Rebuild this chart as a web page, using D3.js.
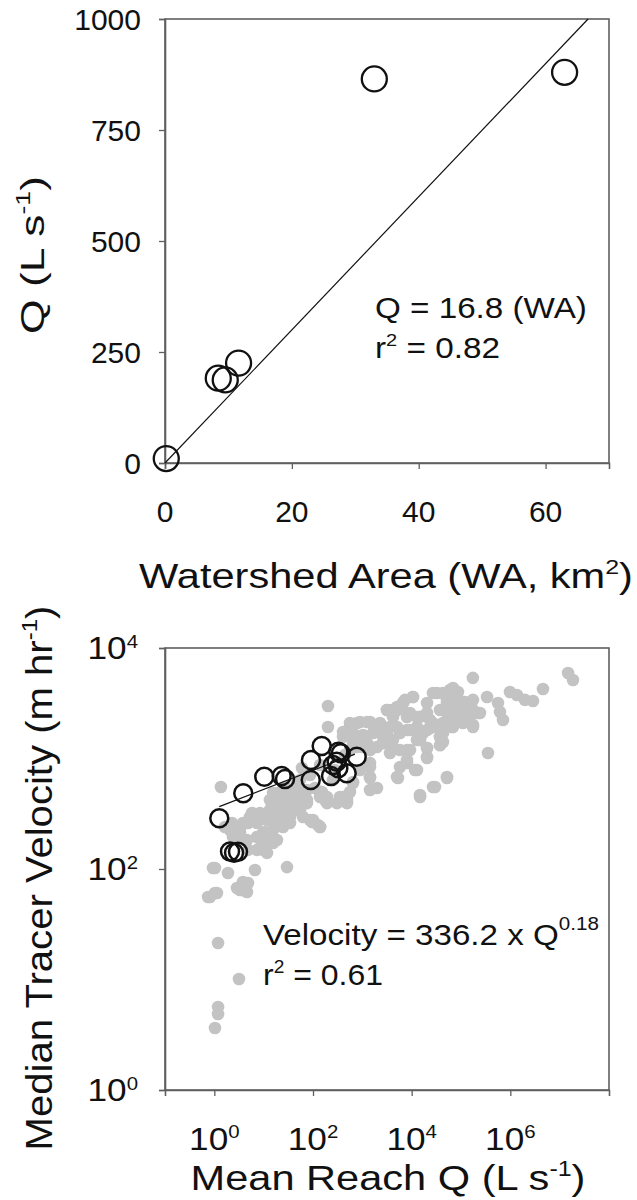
<!DOCTYPE html>
<html><head><meta charset="utf-8">
<script src="https://cdn.jsdelivr.net/npm/d3@7"></script>
<style>body{margin:0;background:#fff}</style>
</head><body>
<svg id="c" width="637" height="1200"></svg>
<script>
// ---------- Data: top panel ----------
const watershedArea = [0.2, 8.4, 9.5, 11.6, 33.0, 63.0];   // km2
const watershedQ    = [10, 191, 187, 225, 865, 880];      // L s-1
const areaFitWA = [0, 66.7];
const areaFitQ  = [0, 1000];
const areaXTicks = [0, 20, 40, 60];
const areaYTicks = [0, 250, 500, 750, 1000];

// ---------- Data: bottom panel ----------
// study reaches (open circles)
const reachQ = [1.26, 3.86, 10.3, 23.2, 27.1, 91, 150, 90, 365, 769, 302, 326, 232, 482, 2.08, 2.51, 3.02, 254, 326];
const reachV = [288, 484, 684, 695, 653, 970, 1300, 639, 1115, 1038, 935, 815, 695, 735, 144, 140, 143, 873, 1153];
// literature data (grey dots)
const litQ = [174000, 1.48e7, 1.86e7, 4.59e6, 9.84e5, 1.36e6, 1.98e6, 2.88e6, 3.37e5, 5.62e5,
  6.17e5, 7.1e5, 2.21e5, 3.52e5, 3.26e4, 5.98e4, 8.69e4, 5.2e4, 9.55e4, 1.1e5,
  1.52e5, 1.75e5, 8.3e4, 6.56e4, 4.32e4, 3.75e4, 2.35e4, 2.05e4, 1.06e4, 7330,
  3160, 4190, 5800, 9250, 1.48e4, 1.28e4, 8040, 5050, 3160, 2620,
  4190, 1.7e4, 2.35e4, 1.48e4, 2.7e4, 5.2e4, 7.55e4, 1.2e5, 8040, 8040,
  1.28e4, 2.05e4, 2.05e4, 5280, 5.2e4, 2.97e4, 1.48e4, 3.75e4, 6.89e4, 1.75e5,
  1.52e5, 562, 780, 1245, 1640, 2620, 2280, 3640, 5050, 6670,
  406, 647, 1030, 1430, 2620, 1430, 1430, 1430, 647, 489,
  897, 201, 201, 817, 152, 175, 95.5, 126, 49.7, 68.9,
  43.2, 27.1, 19.5, 14.8, 31.1, 23.5, 17.0, 10.6, 7.67, 5.81,
  4.81, 24.7, 17.0, 10.6, 14.8, 9.25, 10.6, 3.31, 2.62, 4.19,
  2.28, 4.81, 1.64, 1.36, 59.8, 110, 75.5, 100, 139, 11.7,
  7.33, 34.2, 47.4, 62.7, 192, 306, 39.4, 54.5, 8.43, 13.4,
  279, 446, 0.94, 1.89, 6.67, 29.7, 3.64, 4.81, 2.88, 0.745,
  1.03, 4.59, 11.7, 15.5, 1.19, 3.16, 1.19, 1.19, 1.03, 86.9,
  139, 254, 54.5,
  562, 897, 1430, 2280, 406, 647, 1033, 1644, 2624, 3640,
  3162, 5047, 6668, 10640, 8035, 12820, 20460, 27040, 43150, 68870,
  82990, 52000, 37500, 59840, 95500, 132400, 175000, 242700, 175000, 109600,
  68870, 43150, 27040, 20460, 12820, 9250, 5794, 4188, 2624, 1982,
  1245, 780, 562, 9250, 8035, 20460, 20460, 43150, 37500, 12820,
  5794, 11690, 1430, 1430, 1982, 647, 562, 352, 139, 75.5,
  5047, 14760, 27040, 52000, 5794, 3640,
  15.5, 24.7, 39.4, 54.5, 34.2, 21.4, 13.4, 8.43, 5.28, 3.81,
  2.88, 2.08, 7.33, 11.7, 18.6, 29.7, 47.4, 75.5, 62.7, 34.2,
  24.7, 15.5, 9.68, 7.33, 4.59, 3.31, 2.39, 11.7, 9.68, 18.6,
  29.7, 86.9, 139, 139, 192, 406, 489, 13.4,
  1.03, 3.81, 3.31, 0.817, 1.13];
const litV = [5370, 5940, 5140, 4260, 4000, 3760, 3390, 3310, 3600, 3180,
  2640, 2230, 2580, 1120, 3920, 4170, 4000, 3390, 3180, 2640,
  2380, 2010, 2230, 1930, 1700, 1320, 2230, 3180, 3600, 3390,
  2750, 2380, 2920, 2580, 2380, 1930, 1810, 1930, 1700, 1380,
  1245, 1700, 1890, 1470, 2090, 2580, 2870, 3250, 1190, 910,
  787, 1245, 1010, 667, 667, 552, 449, 1570, 2380, 3390,
  2920, 1930, 2090, 2140, 2010, 1930, 1700, 2750, 2920, 3180,
  1570, 1380, 1270, 1190, 1380, 910, 681, 519, 600, 421,
  787, 2990, 1930, 1570, 497, 421, 266, 250, 488, 395,
  364, 552, 488, 421, 364, 321, 296, 308, 278, 321,
  261, 261, 240, 216, 195, 172, 149, 225, 195, 183,
  261, 149, 240, 552, 820, 541, 519, 278, 240, 172,
  149, 296, 600, 421, 449, 395, 449, 342, 296, 278,
  787, 1075, 102, 92, 98, 104, 64.6, 74.7, 67.3, 55.8,
  60.7, 61.9, 140, 172, 21.4, 10.1, 5.64, 4.88, 3.64, 710,
  873, 639, 639,
  2095, 2140, 2140, 2095, 1738, 1702, 1633, 1702, 1738, 1928,
  2748, 2748, 3177, 3606, 2377, 2377, 2582, 3917, 3917, 4345,
  3606, 3177, 2748, 2582, 2748, 2377, 2748, 2582, 1928, 2095,
  1928, 2095, 1928, 1811, 1702, 1811, 1702, 1471, 1380, 1271,
  1380, 1271, 1194, 1194, 970, 1245, 1032, 1410, 1566, 1471,
  838, 787, 838, 666, 541, 613, 498, 449, 488, 421,
  681, 468, 552, 681, 1194, 1122,
  488, 449, 488, 519, 395, 364, 342, 321, 296, 261,
  240, 225, 261, 278, 296, 321, 342, 395, 296, 261,
  240, 225, 212, 195, 183, 212, 195, 172, 149, 183,
  261, 278, 240, 449, 395, 449, 395, 421,
  102, 76.3, 64.6, 55.8, 60.7];
const velFitQ = [1.26, 708];
const velFitV = [367, 1096];
const velXTicks = [1, 1e2, 1e4, 1e6];
const velXTickExp = ["0", "2", "4", "6"];
const velYTicks = [1, 1e2, 1e4];
const velYTickExp = ["0", "2", "4"];

// ---------- Drawing ----------
const FONT = "'Liberation Sans', Arial, sans-serif";
const INK = "#111";
const AXIS = "#5f5f5f";
const svg = d3.select("#c");

function richText(parent, parts, o) {
  const g = parent.append("g")
    .attr("transform", `translate(${o.x},${o.y})` + (o.rotate ? ` rotate(${o.rotate})` : ""));
  const t = g.append("text").attr("font-family", FONT).attr("font-size", o.fs)
    .attr("text-anchor", o.anchor || "start").attr("fill", INK);
  let raised = 0;
  parts.forEach(p => {
    const ts = t.append("tspan").text(p.t);
    if (p.sup) {
      const r = o.fs * (o.rise || 0.4);
      ts.attr("font-size", o.fs * (o.supScale || 0.6)).attr("dy", -r);
      raised = r;
    } else if (raised) { ts.attr("dy", raised); raised = 0; }
  });
  if (o.width) {
    const w = t.node().getBBox().width;
    t.attr("transform", `scale(${o.width / w},1)`);
  } else if (o.sx) {
    t.attr("transform", `scale(${o.sx},1)`);
  }
  return t;
}

// ===== Top panel =====
const L = 165, R = 609;
const x1 = d3.scaleLinear().domain([0, 70]).range([L, R]);
const y1 = d3.scaleLinear().domain([0, 1000]).range([463, 19]);
const topG = svg.append("g");

topG.append("rect").attr("x", L).attr("y", y1(1000)).attr("width", R - L).attr("height", y1(0) - y1(1000))
  .attr("fill", "none").attr("stroke", AXIS).attr("stroke-width", 1.6);

const ax1 = topG.append("g").attr("transform", `translate(0,${y1(0)})`)
  .call(d3.axisBottom(x1).tickValues(areaXTicks).tickSize(6).tickFormat(""));
const ay1 = topG.append("g").attr("transform", `translate(${L},0)`)
  .call(d3.axisLeft(y1).tickValues(areaYTicks).tickSize(6).tickFormat(""));
[ax1, ay1].forEach(a => { a.select(".domain").attr("stroke", AXIS).attr("stroke-width", 1.6);
  a.selectAll(".tick line").attr("stroke", AXIS).attr("stroke-width", 1.3); });

areaXTicks.forEach(v => richText(topG, [{t: String(v)}], {x: x1(v), y: 522, fs: 30, anchor: "middle"}));
areaYTicks.forEach(v => richText(topG, [{t: String(v)}], {x: 141, y: y1(v) + 0.358 * 30, fs: 30, anchor: "end"}));

topG.append("line").attr("x1", x1(areaFitWA[0])).attr("y1", y1(areaFitQ[0]))
  .attr("x2", x1(areaFitWA[1])).attr("y2", y1(areaFitQ[1]))
  .attr("stroke", INK).attr("stroke-width", 1.2);

topG.selectAll("circle.site").data(watershedArea).join("circle").attr("class", "site")
  .attr("cx", (d, i) => x1(d)).attr("cy", (d, i) => y1(watershedQ[i])).attr("r", 12.5)
  .attr("fill", "none").attr("stroke", INK).attr("stroke-width", 2.3);

richText(topG, [{t: "Q = 16.8 (WA)"}], {x: 375, y: 318, fs: 29, width: 212});
richText(topG, [{t: "r"}, {t: "2", sup: true}, {t: " = 0.82"}], {x: 375, y: 358, fs: 29, width: 125});
richText(topG, [{t: "Watershed Area (WA, km"}, {t: "2", sup: true}, {t: ")"}], {x: 386, y: 588, fs: 35, anchor: "middle", width: 494});
richText(topG, [{t: "Q (L s"}, {t: "-1", sup: true}, {t: ")"}], {x: 44, y: 255, fs: 34, anchor: "middle", rotate: -90, width: 158});

// ===== Bottom panel =====
const x2 = d3.scaleLog().domain([0.1, 1e8]).range([L, R]);
const y2 = d3.scaleLog().domain([1, 1e4]).range([1090, 648]);
const botG = svg.append("g");

botG.append("rect").attr("x", L).attr("y", y2(1e4)).attr("width", R - L).attr("height", y2(1) - y2(1e4))
  .attr("fill", "none").attr("stroke", AXIS).attr("stroke-width", 1.6);
const ax2 = botG.append("g").attr("transform", `translate(0,${y2(1)})`)
  .call(d3.axisBottom(x2).tickValues(velXTicks).tickSize(6).tickFormat(""));
const ay2 = botG.append("g").attr("transform", `translate(${L},0)`)
  .call(d3.axisLeft(y2).tickValues(velYTicks).tickSize(6).tickFormat(""));
[ax2, ay2].forEach(a => { a.select(".domain").attr("stroke", AXIS).attr("stroke-width", 1.6);
  a.selectAll(".tick line").attr("stroke", AXIS).attr("stroke-width", 1.3); });

velXTicks.forEach((v, i) => richText(botG, [{t: "10"}, {t: velXTickExp[i], sup: true}],
  {x: x2(v), y: 1150, fs: 32, anchor: "middle", sx: 1.1, supScale: 0.58, rise: 0.36}));
velYTicks.forEach((v, i) => richText(botG, [{t: "10"}, {t: velYTickExp[i], sup: true}],
  {x: 138, y: y2(v) + 0.358 * 32, fs: 32, anchor: "end", sx: 1.1, supScale: 0.58, rise: 0.36}));

botG.selectAll("circle.lit").data(litQ).join("circle").attr("class", "lit")
  .attr("cx", d => x2(d)).attr("cy", (d, i) => y2(litV[i])).attr("r", 6.3)
  .attr("fill", "#c3c3c3");

botG.append("line").attr("x1", x2(velFitQ[0])).attr("y1", y2(velFitV[0]))
  .attr("x2", x2(velFitQ[1])).attr("y2", y2(velFitV[1]))
  .attr("stroke", INK).attr("stroke-width", 1.2);

botG.selectAll("circle.reach").data(reachQ).join("circle").attr("class", "reach")
  .attr("cx", d => x2(d)).attr("cy", (d, i) => y2(reachV[i])).attr("r", 9)
  .attr("fill", "none").attr("stroke", INK).attr("stroke-width", 2.5);

richText(botG, [{t: "Velocity = 336.2 x Q"}, {t: "0.18", sup: true}], {x: 263, y: 945, fs: 30, width: 336, supScale: 0.62, rise: 0.5});
richText(botG, [{t: "r"}, {t: "2", sup: true}, {t: " = 0.61"}], {x: 263, y: 985, fs: 30, width: 120});
richText(botG, [{t: "Mean Reach Q (L s"}, {t: "-1", sup: true}, {t: ")"}], {x: 388, y: 1190, fs: 36, anchor: "middle", width: 395});
richText(botG, [{t: "Median Tracer Velocity (m hr"}, {t: "-1", sup: true}, {t: ")"}], {x: 52, y: 878, fs: 37, anchor: "middle", rotate: -90, width: 545});
</script>
</body></html>
